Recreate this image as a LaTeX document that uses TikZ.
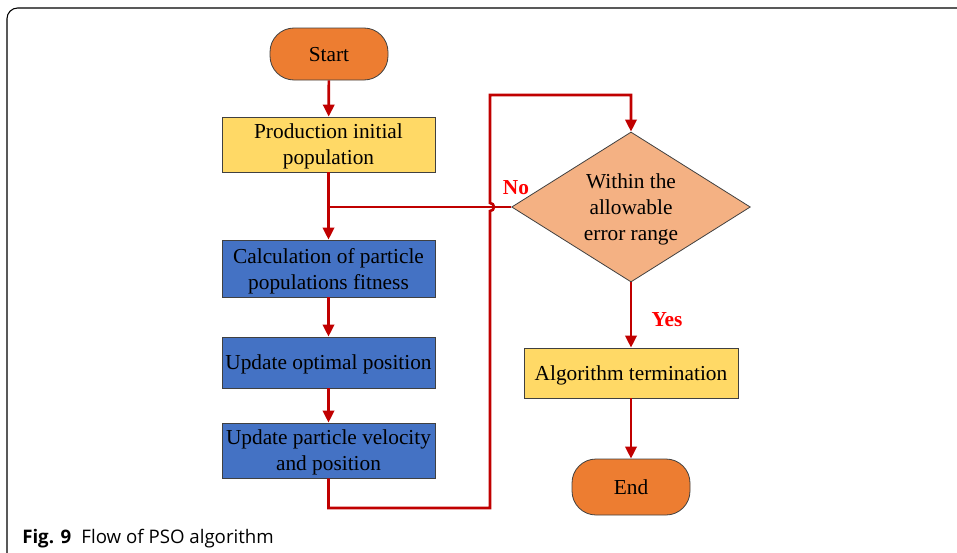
\documentclass[tikz,border=0pt]{standalone}
\usepackage{fontspec}
\setmainfont{Liberation Serif}
\newfontfamily\capfont{Open Sans}
\usepackage{xcolor}
\usetikzlibrary{arrows.meta,calc,positioning,shapes.geometric}
\definecolor{flowred}{HTML}{C00000}
\definecolor{flagred}{HTML}{FF0000}
\definecolor{termorange}{HTML}{ED7D31}
\definecolor{prodyellow}{HTML}{FFD966}
\definecolor{calcblue}{HTML}{4472C4}
\definecolor{checkpeach}{HTML}{F4B183}

\begin{document}
\begin{tikzpicture}[x=0.75pt,y=-0.75pt,
  box/.style={draw=black!75,line width=0.6pt,minimum width=159.75pt,inner sep=2pt,text depth=0pt,align=center,font=\fontsize{16}{19.5}\selectfont},
  term/.style={box,fill=termorange,rounded corners=18pt,minimum width=88.5pt,minimum height=39pt},
  decision/.style={draw=black!75,line width=0.6pt,diamond,aspect=1.6,inner sep=0pt,text depth=0pt,fill=checkpeach,minimum width=179pt,minimum height=112.5pt,align=center,font=\fontsize{16}{19.5}\selectfont},
  link/.style={draw=flowred,line width=2pt},
  flow/.style={link,-{Triangle[length=9pt,width=8.5pt]}},
  flag/.style={text=flagred,font=\fontsize{16}{19}\selectfont\bfseries}]
\useasboundingbox (0,0) rectangle (957,553);
% panel frame
\draw[line width=0.8pt,rounded corners=8pt] (7,553) -- (7,8) -- (957,8);

% main column
\node[term] (start) at (329,54) {Start};
\node[box,fill=prodyellow,minimum height=41.25pt] (prod) at (328.5,144.5) {Production initial\\population};
\node[box,fill=calcblue,minimum height=42.75pt] (calc) at (328.5,268.5) {Calculation of particle\\populations fitness};
\node[box,fill=calcblue,minimum height=38.25pt] (opt) at (328.5,362.5) {Update optimal position};
\node[box,fill=calcblue,minimum height=41.25pt] (vel) at (328.5,450.5) {Update particle velocity\\and position};

% right column
\node[decision] (check) at (631,207) {Within the\\allowable\\error range};
\node[box,fill=prodyellow,minimum width=160.5pt,minimum height=37.5pt] (stop) at (631,373) {Algorithm termination};
\node[term,minimum height=42pt] (end) at (631,487) {End};

\node[flag] (no) at (516,188) {No};
\node[flag] (yes) at (667,320) {Yes};

\coordinate (join) at (prod.south |- check.west);
\coordinate (loopB) at (490,508);
\coordinate (loopT) at (490,95);

\draw[flow] (start) -- (prod);
\draw[flow] (prod) -- (calc);
\draw[link] (check) -- (join);
\draw[flow] (calc) -- (opt);
\draw[flow] (opt) -- (vel);
\draw[flow] (vel.south) |- (loopB) -- (490,211) arc[start angle=-90,end angle=90,radius=3pt] -- (loopT) -| (check.north);
\draw[flow] (check) -- (stop);
\draw[flow] (stop) -- (end);

% caption
\node[anchor=base west,font=\capfont\fontsize{14}{16}\selectfont,inner sep=0pt] (caption) at (22,543) {\textbf{Fig. 9}\hspace{0.55em}Flow of PSO algorithm};
\end{tikzpicture}
\end{document}
